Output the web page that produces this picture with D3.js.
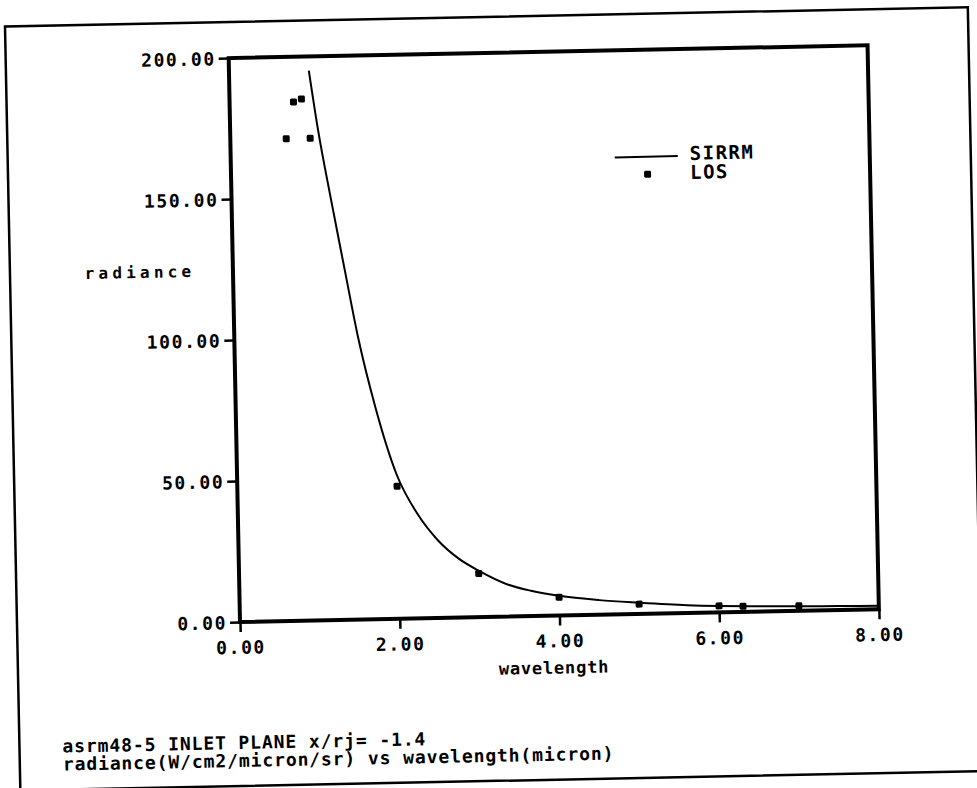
<!DOCTYPE html>
<html>
<head>
<meta charset="utf-8">
<script src="https://cdn.jsdelivr.net/npm/d3@7"></script>
<style>
  html, body { margin: 0; padding: 0; background: #fff; }
  svg { display: block; }
  text { font-family: "DejaVu Sans Mono", "Liberation Mono", monospace; font-weight: bold; fill: #000; }
</style>
</head>
<body>
<svg id="chart" width="977" height="788"></svg>
<script>
// ---- data ----
const xTicks = [0, 2, 4, 6, 8];
const yTicks = [0, 50, 100, 150, 200];

// SIRRM model curve (wavelength, radiance)
const sirrmX = [1.0, 1.1, 1.24, 1.4, 1.55, 1.75, 2.0, 2.25, 2.5, 2.75, 3.0, 3.35, 3.65, 4.0, 4.5, 5.0, 5.6, 6.0, 6.5, 7.0, 7.5, 8.0];
const sirrmY = [195, 174, 150, 124, 100, 75, 51, 37, 27.5, 21, 16.5, 11.5, 9, 7, 5.2, 4.0, 2.8, 2.3, 1.9, 1.6, 1.4, 1.2];

// LOS measured points
const losX = [0.7, 0.8, 0.9, 1.0, 2, 3, 4, 5, 6, 6.3, 7];
const losY = [171, 184, 185, 171, 47, 15.5, 6.5, 3.5, 2.3, 2.0, 1.8];

const legendLabels = ["SIRRM", "LOS"];
const xLabel = "wavelength";
const yLabel = "radiance";
const captionLines = [
  "asrm48-5 INLET PLANE x/rj= -1.4",
  "radiance(W/cm2/micron/sr) vs wavelength(micron)"
];

// ---- layout ----
const plot = { left: 240, right: 879, top: 58, bottom: 622 };
const svg = d3.select("#chart");
const root = svg.append("g").attr("transform", `rotate(-1.15, ${plot.left}, ${plot.bottom})`);

// outer frame
root.append("rect")
  .attr("x", 17).attr("y", 22).attr("width", 963).attr("height", 764)
  .attr("fill", "none").attr("stroke", "#000").attr("stroke-width", 2.5);

const x = d3.scaleLinear().domain([0, 8]).range([plot.left, plot.right]);
const y = d3.scaleLinear().domain([0, 200]).range([plot.bottom, plot.top]);

// axes
const fmt = d3.format(".2f");
const gx = root.append("g").attr("transform", `translate(0,${plot.bottom})`)
  .call(d3.axisBottom(x).tickValues(xTicks).tickSize(10).tickPadding(9).tickFormat(fmt));
const gy = root.append("g").attr("transform", `translate(${plot.left},0)`)
  .call(d3.axisLeft(y).tickValues(yTicks).tickSize(10).tickPadding(3).tickFormat(fmt));
[gx, gy].forEach(g => {
  g.select(".domain").remove();
  g.selectAll(".tick line").attr("stroke", "#000").attr("stroke-width", 2.5);
  g.selectAll(".tick text").style("font-size", "18px").style("letter-spacing", "1.6px")
    .attr("fill", "#000");
});
gy.selectAll(".tick text").attr("dy", "0.36em");

// plot frame
root.append("rect")
  .attr("x", plot.left).attr("y", plot.top)
  .attr("width", plot.right - plot.left).attr("height", plot.bottom - plot.top)
  .attr("fill", "none").attr("stroke", "#000").attr("stroke-width", 4);

// SIRRM curve
const curveData = sirrmX.map((d, i) => [d, sirrmY[i]]);
root.append("path")
  .datum(curveData)
  .attr("fill", "none").attr("stroke", "#000").attr("stroke-width", 2)
  .attr("d", d3.line().x(d => x(d[0])).y(d => y(d[1])).curve(d3.curveMonotoneX));

// LOS points
const losData = losX.map((d, i) => [d, losY[i]]);
root.append("g").selectAll("rect").data(losData).enter().append("rect")
  .attr("x", d => x(d[0]) - 3.5).attr("y", d => y(d[1]) - 3.5)
  .attr("width", 7).attr("height", 7).attr("rx", 1.5)
  .attr("fill", "#000");

// axis titles
root.append("text").attr("x", 147).attr("y", 276).attr("text-anchor", "middle")
  .style("font-size", "16px").style("letter-spacing", "4.2px").text(yLabel);
root.append("text").attr("x", 553).attr("y", 680).attr("text-anchor", "middle")
  .style("font-size", "17px").style("letter-spacing", "0.8px").text(xLabel);

// legend
const lg = root.append("g");
lg.append("line").attr("x1", 624).attr("x2", 687).attr("y1", 165).attr("y2", 165)
  .attr("stroke", "#000").attr("stroke-width", 2);
lg.append("rect").attr("x", 653).attr("y", 179).attr("width", 7).attr("height", 7).attr("rx", 1.5).attr("fill", "#000");
lg.selectAll("text.lab").data(legendLabels).enter().append("text")
  .attr("class", "lab")
  .attr("x", 699).attr("y", (d, i) => 169 + i * 19)
  .style("font-size", "19px").style("letter-spacing", "1.5px")
  .text(d => d);

// caption
root.selectAll("text.cap").data(captionLines).enter().append("text")
  .attr("class", "cap")
  .attr("x", 60).attr("y", (d, i) => 749 + i * 18)
  .style("font-size", "18px").style("letter-spacing", "0.9px")
  .text(d => d);
</script>
</body>
</html>
